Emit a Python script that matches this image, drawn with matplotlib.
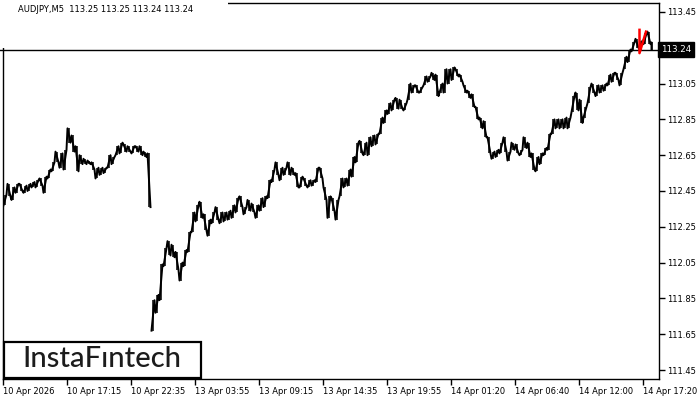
import numpy as np
import matplotlib.pyplot as plt
from matplotlib.patches import Rectangle

chart_title = "AUDJPY,M5  113.25 113.25 113.24 113.24"
last_price = 113.24

# highs / lows of 4-bar (20 min) groups of M5 bars (10 Apr 11:55 onward)
group_high = [
    112.43, 112.49, 112.47, 112.49, 112.49, 112.48, 112.49, 112.50, 112.51, 112.52,
    112.53, 112.57, 112.61, 112.67, 112.66, 112.68, 112.80, 112.76, 112.70, 112.65,
    112.63, 112.62, 112.61, 112.58, 112.58, 112.58, 112.65, 112.64, 112.70, 112.72,
    112.71, 112.70, 112.70, 112.70, 112.70, 112.67, 112.66, 111.84, 111.87, 112.04,
    112.13, 112.17, 112.15, 112.11, 112.05, 112.12, 112.22, 112.33, 112.37, 112.39,
    112.32, 112.29, 112.33, 112.36, 112.33, 112.33, 112.34, 112.37, 112.41, 112.42,
    112.36, 112.40, 112.38, 112.37, 112.41, 112.42, 112.51, 112.57, 112.61, 112.58,
    112.58, 112.61, 112.58, 112.55, 112.53, 112.52, 112.51, 112.51, 112.58, 112.58,
    112.47, 112.42, 112.41, 112.40, 112.52, 112.52, 112.57, 112.64, 112.72, 112.73,
    112.72, 112.75, 112.76, 112.77, 112.86, 112.90, 112.94, 112.96, 112.97, 112.96,
    112.94, 113.05, 113.04, 113.04, 113.03, 113.09, 113.09, 113.11, 113.10, 113.05,
    113.13, 113.13, 113.14, 113.13, 113.10, 113.04, 113.01, 112.99, 112.92, 112.86,
    112.84, 112.75, 112.67, 112.68, 112.72, 112.75, 112.67, 112.72, 112.71, 112.68,
    112.75, 112.72, 112.66, 112.64, 112.66, 112.69, 112.77, 112.85, 112.85, 112.85,
    112.86, 112.86, 112.98, 113.00, 112.96, 112.92, 113.03, 113.05, 113.04, 113.04,
    113.05, 113.10, 113.11, 113.11, 113.11, 113.20, 113.24, 113.28, 113.30, 113.29,
    113.33, 113.34, 113.28,
]
group_low = [
    112.37, 112.42, 112.40, 112.44, 112.45, 112.44, 112.45, 112.47, 112.47, 112.48,
    112.44, 112.52, 112.56, 112.61, 112.58, 112.57, 112.72, 112.67, 112.56, 112.60,
    112.60, 112.60, 112.57, 112.52, 112.54, 112.55, 112.58, 112.60, 112.65, 112.66,
    112.67, 112.67, 112.66, 112.67, 112.65, 112.64, 112.36, 111.67, 111.77, 111.84,
    112.03, 112.09, 112.08, 112.01, 111.95, 112.03, 112.11, 112.22, 112.28, 112.30,
    112.23, 112.20, 112.27, 112.29, 112.27, 112.28, 112.29, 112.30, 112.33, 112.36,
    112.32, 112.34, 112.33, 112.30, 112.34, 112.36, 112.41, 112.50, 112.54, 112.51,
    112.54, 112.54, 112.54, 112.47, 112.47, 112.48, 112.47, 112.48, 112.50, 112.52,
    112.40, 112.30, 112.34, 112.29, 112.42, 112.47, 112.48, 112.53, 112.61, 112.66,
    112.65, 112.65, 112.70, 112.71, 112.77, 112.83, 112.88, 112.90, 112.91, 112.91,
    112.90, 112.96, 113.00, 113.00, 113.00, 113.04, 113.06, 113.07, 112.98, 113.00,
    113.00, 113.05, 113.07, 113.09, 113.06, 113.00, 112.97, 112.92, 112.85, 112.80,
    112.75, 112.66, 112.63, 112.64, 112.66, 112.67, 112.62, 112.68, 112.66, 112.65,
    112.69, 112.64, 112.57, 112.56, 112.60, 112.65, 112.68, 112.77, 112.80, 112.80,
    112.80, 112.80, 112.89, 112.90, 112.83, 112.86, 112.94, 113.00, 112.98, 113.00,
    113.01, 113.04, 113.06, 113.07, 113.04, 113.13, 113.17, 113.23, 113.25, 113.24,
    113.27, 113.27, 113.24,
]
bars_per_group = 4
total_bars = 649
session_starts = [37]   # first group after the weekend gap

# red pattern marker near the right edge (bar index, price)
pattern_bars = [636.5, 636.5, 643.0]
pattern_prices = [113.35, 113.22, 113.34]

time_labels = ["10 Apr 2026", "10 Apr 17:15", "10 Apr 22:35", "13 Apr 03:55",
               "13 Apr 09:15", "13 Apr 14:35", "13 Apr 19:55", "14 Apr 01:20",
               "14 Apr 06:40", "14 Apr 12:00", "14 Apr 17:20"]
bars_per_label = 64
price_ticks = [111.45, 111.65, 111.85, 112.05, 112.25, 112.45,
               112.65, 112.85, 113.05, 113.45]

plt.rcParams['font.family'] = ['DejaVu Sans']

W, H = 700, 400
fig = plt.figure(figsize=(W / 100, H / 100), dpi=100)
ax = fig.add_axes([3 / W, 21 / H, 656 / W, 376 / H])

# zig-zag through each group's high and low, so the trace looks like dense M5 bars
hi = np.array(group_high)
lo = np.array(group_low)
mid = (hi + lo) / 2
xs, ys = [], []
for g in range(len(hi)):
    if g in session_starts:
        xs.append(np.nan)
        ys.append(np.nan)
    x0 = g * bars_per_group + 0.5
    x1 = min(x0 + bars_per_group - 1, total_bars - 0.5)
    rising = g + 1 < len(hi) and mid[g + 1] >= mid[g]
    first, second = (lo[g], hi[g]) if rising else (hi[g], lo[g])
    xs += [x0, x1]
    ys += [first, second]
ax.plot(xs, ys, color='black', lw=1.4, zorder=3)
centers = np.minimum(np.arange(len(hi)) * bars_per_group + 2, total_bars - 0.5)
ax.vlines(centers, lo, hi, color='black', lw=1.1, zorder=3)

ax.plot(pattern_bars, pattern_prices, color='red', lw=1.8, zorder=4)

# current price line
ax.axhline(last_price, xmin=-3 / 656, xmax=1, color='black', lw=1, clip_on=False, zorder=2)

ax.set_xlim(0, 656)
ax.set_ylim(111.40, 113.50)

ax.yaxis.tick_right()
ax.set_yticks(price_ticks)
ax.set_yticklabels([f"{p:.2f}" for p in price_ticks])
ax.set_xticks(np.arange(len(time_labels)) * bars_per_label)
ax.set_xticklabels(time_labels, ha='left')
ax.tick_params(axis='both', direction='out', length=4, width=1, labelsize=6, pad=2, colors='black')
for s in ax.spines.values():
    s.set_color('black')
    s.set_linewidth(1)

ax.text(1.0 + 2 / 656, last_price, f"{last_price:.2f}", transform=ax.get_yaxis_transform(),
        ha='left', va='center', fontsize=6.3, color='white', clip_on=False,
        bbox=dict(boxstyle='square,pad=0.3', fc='black', ec='black'), zorder=10)

# white title area over the top-left corner
fig.patches.append(Rectangle((0, 1 - 48 / H), 228 / W, 48 / H, transform=fig.transFigure,
                             fc='white', ec='none', zorder=5))
fig.text(18 / W, 1 - 10 / H, chart_title, fontsize=6, ha='left', va='center', zorder=6)

# logo box
fig.patches.append(Rectangle((4 / W, 1 - 378 / H), 197 / W, 36 / H, transform=fig.transFigure,
                             fc='white', ec='black', lw=1.6, zorder=7))
fig.text(102 / W, 1 - 359 / H, "InstaFıntech", fontsize=21, fontweight='medium',
         family=['Lato', 'DejaVu Sans'], color='#1c1c1c', ha='center', va='center', zorder=8)

fig.savefig('out.png', dpi=100)
